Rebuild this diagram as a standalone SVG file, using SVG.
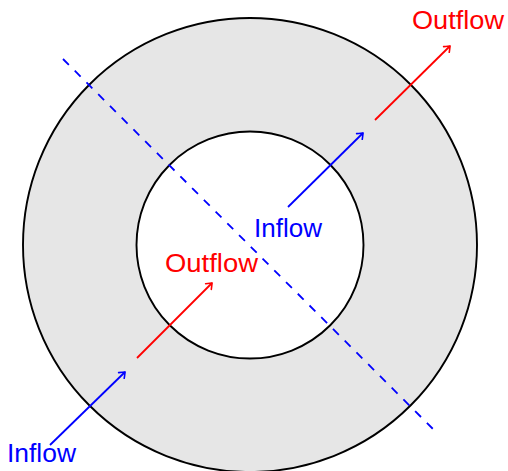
<svg xmlns="http://www.w3.org/2000/svg" width="508" height="471" viewBox="0 0 508 471">
<style>
.ring{stroke:#000;stroke-width:1.9}
.arr{fill:none;stroke-width:1.8}
.blue{stroke:#0000ff}
.red{stroke:#ff0000}
.lbl{font-family:"Liberation Sans","DejaVu Sans",sans-serif;font-size:25px}
</style>
<defs>
<marker id="ab" viewBox="-6 -5 8 10" markerWidth="8" markerHeight="10" refX="0" refY="0" orient="auto" markerUnits="userSpaceOnUse">
<path d="M-5,-4 Q-1,-1 0,0 Q-1,1 -5,4" fill="none" stroke="#0000ff" stroke-width="1.6" stroke-linecap="round"/>
</marker>
<marker id="ar" viewBox="-6 -5 8 10" markerWidth="8" markerHeight="10" refX="0" refY="0" orient="auto" markerUnits="userSpaceOnUse">
<path d="M-5,-4 Q-1,-1 0,0 Q-1,1 -5,4" fill="none" stroke="#ff0000" stroke-width="1.6" stroke-linecap="round"/>
</marker>
</defs>
<g id="outer-ring">
<circle class="ring" cx="250" cy="245" r="227" fill="#e6e6e6"/>
</g>
<g id="inner-circle">
<circle class="ring" cx="250" cy="245" r="113.5" fill="#ffffff"/>
</g>
<g id="connectors">
<line x1="63" y1="59" x2="436" y2="432" stroke="#0000ff" stroke-width="1.8" stroke-dasharray="8.3 8.3"/>
<line class="arr blue" x1="50" y1="445" x2="125" y2="372" marker-end="url(#ab)"/>
<line class="arr red" x1="137" y1="358" x2="212" y2="283" marker-end="url(#ar)"/>
<line class="arr blue" x1="288" y1="207" x2="363" y2="133" marker-end="url(#ab)"/>
<line class="arr red" x1="375" y1="120" x2="450" y2="46" marker-end="url(#ar)"/>
</g>
<g id="label-inflow-outer">
<text class="lbl" x="7" y="462" fill="#0000ff" textLength="69" lengthAdjust="spacingAndGlyphs">Inflow</text>
</g>
<g id="label-outflow-inner">
<text class="lbl" x="165" y="272" fill="#ff0000" textLength="93" lengthAdjust="spacingAndGlyphs">Outflow</text>
</g>
<g id="label-inflow-inner">
<text class="lbl" x="254" y="237" fill="#0000ff" textLength="68" lengthAdjust="spacingAndGlyphs">Inflow</text>
</g>
<g id="label-outflow-outer">
<text class="lbl" x="412" y="29" fill="#ff0000" textLength="92" lengthAdjust="spacingAndGlyphs">Outflow</text>
</g>
</svg>
